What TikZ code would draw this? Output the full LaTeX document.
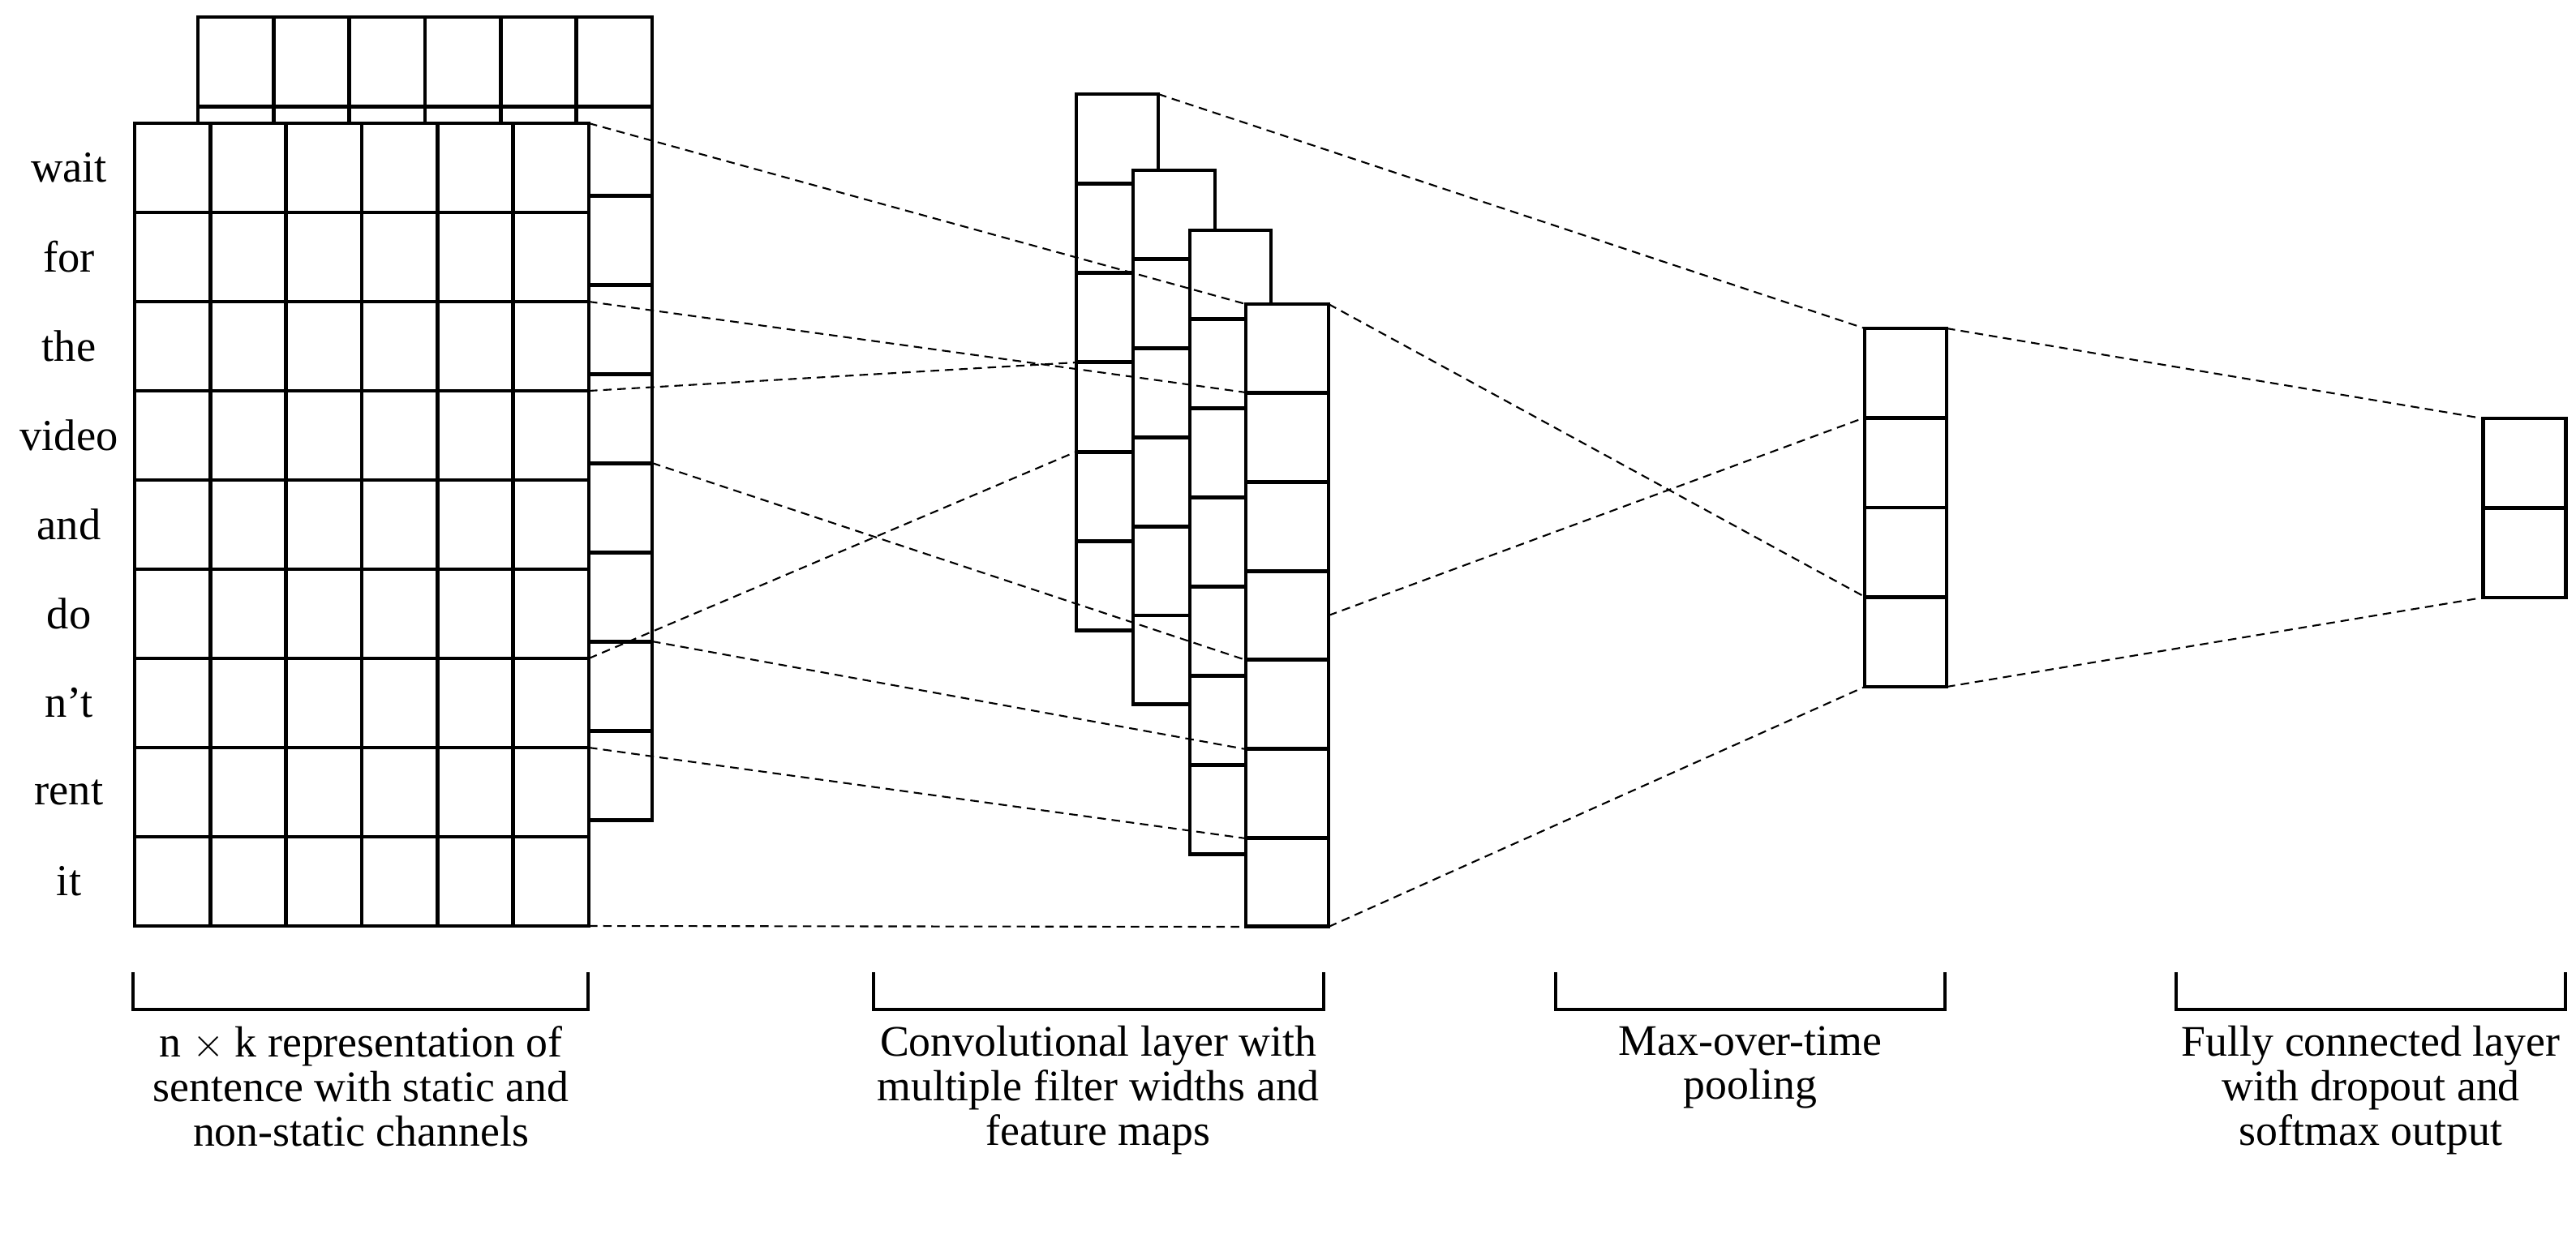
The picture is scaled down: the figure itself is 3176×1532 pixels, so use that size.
\documentclass[tikz,border=0pt]{standalone}
\usepackage{fontspec}
\setmainfont{Liberation Serif}
\begin{document}
\begin{tikzpicture}[x=0.01cm,y=-0.01cm,
  cell/.style={line width=1.4pt,fill=white},
  gl/.style={line width=1.4pt},
  conn/.style={line width=0.6pt,dash pattern=on 3pt off 2pt},
  word/.style={font=\fontsize{15.5}{18}\selectfont},
  lab/.style={font=\fontsize{15.3}{15.6}\selectfont,align=center,anchor=north}]
\useasboundingbox (0,0) rectangle (3176,1532);
% grid macro: x y cols rows w h
\newcommand{\mygrid}[6]{%
  \draw[cell] (#1,#2) rectangle ({#1+#3*#5},{#2+#4*#6});
  \foreach \i in {1,...,#3}{\ifnum\i<#3\relax\draw[gl] ({#1+\i*#5},#2) -- ({#1+\i*#5},{#2+#4*#6});\fi}
  \foreach \j in {1,...,#4}{\ifnum\j<#4\relax\draw[gl] (#1,{#2+\j*#6}) -- ({#1+#3*#5},{#2+\j*#6});\fi}
}
% input matrices
\mygrid{244}{21}{6}{9}{93.33}{110.1}
\mygrid{166}{152}{6}{9}{93.33}{110}
\foreach \w [count=\k from 0] in {wait,for,the,video,and,do,n’t,rent,it}
  \node[word] (w\k) at (85,{207+110*\k}) {\w};
% feature maps
\mygrid{1327}{116}{1}{6}{101}{110.3}
\mygrid{1397}{210}{1}{6}{101}{109.8}
\mygrid{1467}{284}{1}{7}{100}{109.9}
\mygrid{1536}{375}{1}{7}{102}{109.7}
% pooling and output
\mygrid{2299}{405}{1}{4}{101}{110.5}
\mygrid{3061}{516}{1}{2}{102}{110.5}
% endpoints
\coordinate (a1) at (726,152); \coordinate (b1) at (1536,375);
\coordinate (a2) at (726,372); \coordinate (b2) at (1536,484);
\coordinate (a3) at (726,482); \coordinate (b3) at (1327,447);
\coordinate (a4) at (804,571); \coordinate (b4) at (1536,814);
\coordinate (a5) at (726,812); \coordinate (b5) at (1327,557);
\coordinate (a6) at (804,791); \coordinate (b6) at (1536,924);
\coordinate (a7) at (726,922); \coordinate (b7) at (1536,1034);
\coordinate (a8) at (726,1142); \coordinate (b8) at (1536,1143);
\coordinate (c1) at (1428,116); \coordinate (d1) at (2299,736);
\coordinate (c2) at (1638,375); \coordinate (d2) at (2299,736);
\coordinate (c3) at (1638,759); \coordinate (d3) at (2299,515);
\coordinate (c4) at (1638,1143); \coordinate (d4) at (2299,847);
\coordinate (p1) at (2400,405); \coordinate (o1) at (3061,516);
\coordinate (p2) at (2400,847); \coordinate (o2) at (3061,737);
\coordinate (pt) at (2299,405);
\foreach \i in {1,...,8} \draw[conn] (a\i) -- (b\i);
\draw[conn] (c1) -- (pt);
\draw[conn] (c2) -- (d1);
\draw[conn] (c3) -- (d3);
\draw[conn] (c4) -- (d4);
\draw[conn] (p1) -- (o1);
\draw[conn] (p2) -- (o2);
% brackets
\foreach \xa/\xb/\n in {164/725/1,1077/1632/2,1918/2398/3,2683/3163/4}
  \draw[line width=1.2pt] (\xa,1199) -- (\xa,1245) -- (\xb,1245) -- (\xb,1199) coordinate (br\n);
\node[lab] (l1) at (445,1253) {n $\times$ k representation of\\sentence with static and\\non-static channels};
\node[lab] (l2) at (1354,1253) {Convolutional layer with\\multiple filter widths and\\feature maps};
\node[lab] (l3) at (2158,1253) {Max-over-time\\pooling};
\node[lab] (l4) at (2923,1253) {Fully connected layer\\with dropout and\\softmax output};
\end{tikzpicture}
\end{document}
